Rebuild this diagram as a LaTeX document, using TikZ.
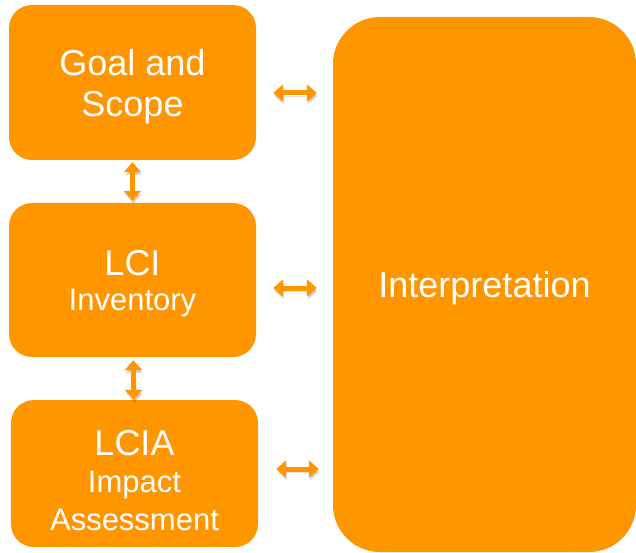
\documentclass[tikz,border=0pt]{standalone}
\usepackage{fontspec}
\setmainfont{Liberation Sans}
\usepackage{tikz}
\usetikzlibrary{arrows.meta,positioning}
\definecolor{lcaorange}{RGB}{255,150,0}
\newcommand*\bigtxt{\fontsize{36}{41}\selectfont}
\newcommand*\subtxt{\fontsize{31}{36}\selectfont}

\begin{document}
\begin{tikzpicture}[x=1pt,y=-1pt,>={Triangle[width=17pt,length=10pt]},node distance=196pt,
	phase/.style={shape=rectangle,fill=lcaorange,text=white,rounded corners=23pt,
		minimum width=247pt,align=center,inner sep=0pt,font=\bigtxt,text depth=0pt},
	biarrow/.style={<->,draw=lcaorange,line width=5pt,
		preaction={draw=black,opacity=0.12,transform canvas={shift={(1pt,-3pt)}}}}]
	\useasboundingbox (0,0) rectangle (636,553);
					\node (goal) [phase,minimum height=155pt] at (132.5,82.5) {Goal and\\Scope};
					\node (lci) [phase,minimum height=154pt] [below of = goal,yshift=-1.5pt] {LCI\\[-6pt]\subtxt Inventory};
					\node (lcia) [phase,minimum height=147pt,text height=114pt] [below of = lci,xshift=2pt,yshift=2.5pt] {LCIA\\[-4pt]\subtxt Impact\\[-3pt]\subtxt Assessment};
					\node (interp) [phase,minimum width=303pt,minimum height=535pt,rounded corners=47pt] at (484.5,284.5) {Interpretation};

					\coordinate (ga) at ([yshift=-10.5pt]goal.east);
					\coordinate (la) at ([yshift=-8pt]lci.east);
					\coordinate (ia) at ([yshift=4.5pt]lcia.east);

					\path (goal) edge [biarrow,shorten <=2pt,shorten >=2pt] (lci);
					\path (lci) edge [biarrow,shorten <=3pt,shorten >=0pt] (lcia);
					\path (ga) edge [biarrow,shorten <=17pt,shorten >=16pt] (ga -| interp.west);
					\path (la) edge [biarrow,shorten <=17pt,shorten >=16pt] (la -| interp.west);
					\path (ia) edge [biarrow,shorten <=18pt,shorten >=14pt] (ia -| interp.west);
				\end{tikzpicture}
\end{document}
